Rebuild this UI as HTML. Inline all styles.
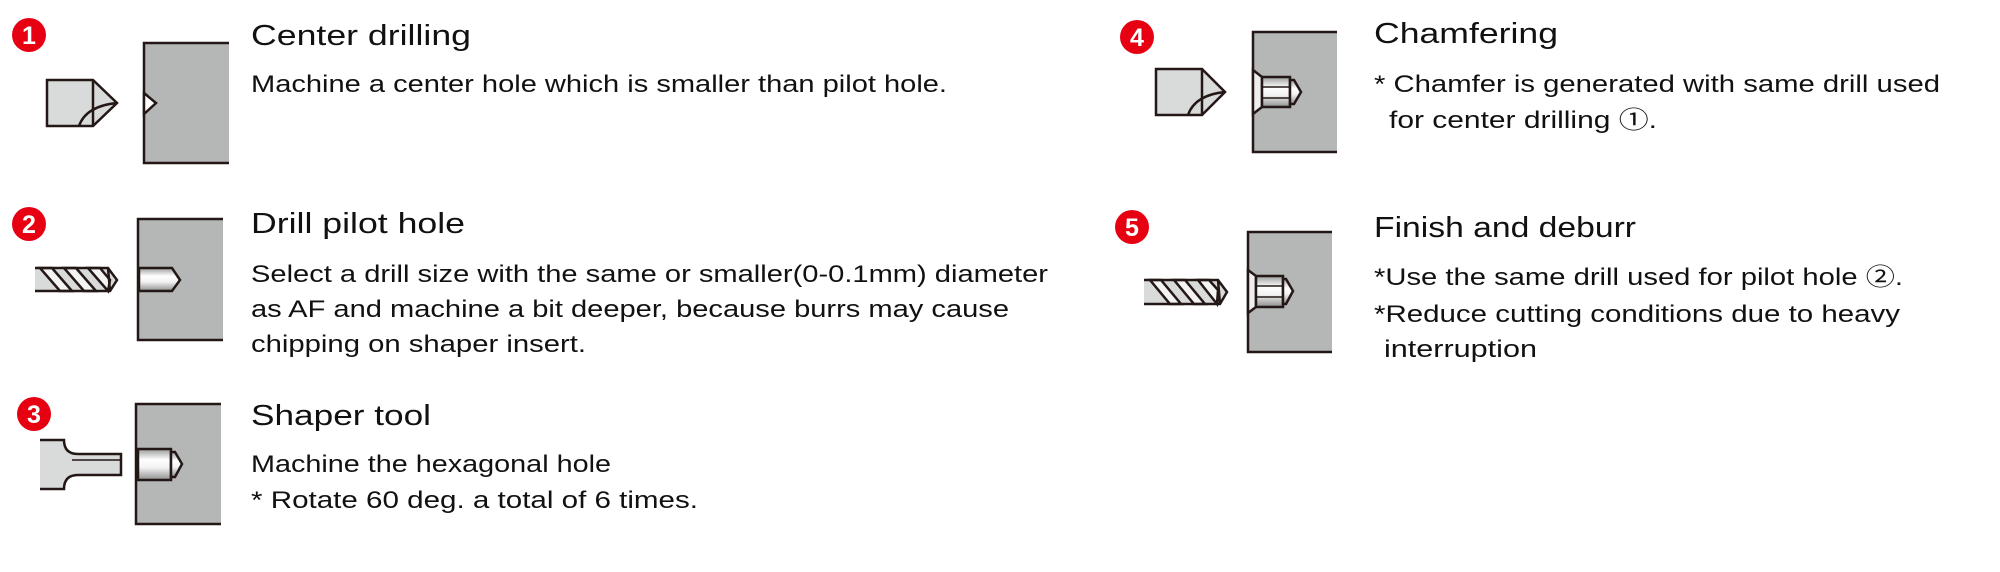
<!DOCTYPE html>
<html><head><meta charset="utf-8"><style>
html,body{margin:0;padding:0;background:#fff;}
svg{display:block}
text{font-family:"Liberation Sans","Noto Sans CJK JP",sans-serif;fill:#111}
.t{font-size:29px}
.b{font-size:24px}
</style></head><body>
<svg width="2000" height="572" viewBox="0 0 2000 572" xmlns="http://www.w3.org/2000/svg">
<defs>
<linearGradient id="cyl" x1="0" y1="0" x2="0" y2="1">
<stop offset="0" stop-color="#9a9b9b"/><stop offset="0.35" stop-color="#ffffff"/><stop offset="0.6" stop-color="#f2f2f2"/><stop offset="1" stop-color="#8d8e8e"/>
</linearGradient>
</defs>
<g stroke="#231815" stroke-width="2.5" stroke-linejoin="miter">

<g stroke="none">
<circle cx="29" cy="35" r="17" fill="#e60012"/>
<circle cx="29" cy="224" r="17" fill="#e60012"/>
<circle cx="34" cy="414" r="17" fill="#e60012"/>
<circle cx="1137" cy="37" r="17" fill="#e60012"/>
<circle cx="1132" cy="227" r="17" fill="#e60012"/>
</g>

<!-- 1 -->
<path d="M47 80 H93 L117 103 L93 126 H47 Z" fill="#d9dada"/>
<line x1="93" y1="80" x2="93" y2="126"/>
<path d="M79 126 Q86 106 117 103" fill="none"/>
<path d="M229 43 H144 V163 H229" fill="#b5b6b6"/>
<path d="M144 93 L156 103 L144 114 Z" fill="#fff"/>

<!-- 2 -->
<path d="M223 219 H138 V340 H223" fill="#b5b6b6"/>
<path d="M139 268 H172 L180 280 L172 291 H139 Z" fill="url(#cyl)"/>
<path d="M35 268 H108 L117 280 L110 291 H35 Z" fill="#d9dada" stroke="none"/>
<g fill="#f4f4f4">
<path d="M40 268 H52 L72 291 H60 Z"/>
<path d="M64 268 H76 L96 291 H84 Z"/>
<path d="M88 268 H100 L110 280 L108 291 Z"/>
</g>
<path d="M35 268 H108 L117 280 L110 291 H35" fill="none"/>
<line x1="108" y1="268" x2="110" y2="291"/>

<!-- 3 -->
<path d="M221 404 H136 V524 H221" fill="#b5b6b6"/>
<path d="M138 449 H171 V480 H138 Z" fill="url(#cyl)"/>
<path d="M171 452 H175 L182 464 L175 477 H171 Z" fill="url(#cyl)"/>
<path d="M40 440 H64 Q64 454 78 454 H121 V475 H78 Q64 475 64 489 H40" fill="#d9dada"/>
<path d="M72 460 H121" fill="none" stroke-width="1.5"/>

<!-- 4 -->
<path d="M1156 69 H1202 L1225 92 L1202 115 H1156 Z" fill="#d9dada"/>
<line x1="1202" y1="69" x2="1202" y2="115"/>
<path d="M1188 115 Q1195 95 1225 92" fill="none"/>
<path d="M1337 32 H1253 V152 H1337" fill="#b5b6b6"/>
<path d="M1253 70 L1262 77 V107 L1253 114 Z" fill="#eee"/>
<path d="M1262 77 H1290 V107 H1262 Z" fill="url(#cyl)"/>
<path d="M1262 87 H1290 M1262 98 H1290" fill="none" stroke-width="1.5"/>
<path d="M1290 80 H1294 L1301 92 L1294 104 H1290 Z" fill="url(#cyl)"/>

<!-- 5 -->
<path d="M1332 232 H1248 V352 H1332" fill="#b5b6b6"/>
<path d="M1248 270 L1256 276 V307 L1248 313 Z" fill="#eee"/>
<path d="M1256 276 H1283 V307 H1256 Z" fill="url(#cyl)"/>
<path d="M1256 286 H1283 M1256 297 H1283" fill="none" stroke-width="1.5"/>
<path d="M1283 279 H1286 L1293 291 L1286 304 H1283 Z" fill="url(#cyl)"/>
<path d="M1144 280 H1218 L1227 292 L1220 304 H1144 Z" fill="#d9dada" stroke="none"/>
<g fill="#f4f4f4">
<path d="M1150 280 H1161 L1181 304 H1170 Z"/>
<path d="M1174 280 H1185 L1205 304 H1194 Z"/>
<path d="M1198 280 H1209 L1218 290 L1217 304 Z"/>
</g>
<path d="M1144 280 H1218 L1227 292 L1220 304 H1144" fill="none"/>
<line x1="1218" y1="280" x2="1220" y2="304"/>
</g>

<g font-size="25" text-anchor="middle">
<text x="29" y="44" style="fill:#fff;font-weight:bold">1</text>
<text x="29" y="233" style="fill:#fff;font-weight:bold">2</text>
<text x="34" y="423" style="fill:#fff;font-weight:bold">3</text>
<text x="1137" y="46" style="fill:#fff;font-weight:bold">4</text>
<text x="1132" y="236" style="fill:#fff;font-weight:bold">5</text>
</g>

<text class="t" x="251" y="45" textLength="220" lengthAdjust="spacingAndGlyphs">Center drilling</text>
<text class="b" x="251" y="92" textLength="696" lengthAdjust="spacingAndGlyphs">Machine a center hole which is smaller than pilot hole.</text>
<text class="t" x="251" y="233" textLength="214" lengthAdjust="spacingAndGlyphs">Drill pilot hole</text>
<text class="b" x="251" y="282" textLength="797" lengthAdjust="spacingAndGlyphs">Select a drill size with the same or smaller(0-0.1mm) diameter</text>
<text class="b" x="251" y="317" textLength="758" lengthAdjust="spacingAndGlyphs">as AF and machine a bit deeper, because burrs may cause</text>
<text class="b" x="251" y="352" textLength="335" lengthAdjust="spacingAndGlyphs">chipping on shaper insert.</text>
<text class="t" x="251" y="425" textLength="180" lengthAdjust="spacingAndGlyphs">Shaper tool</text>
<text class="b" x="251" y="472" textLength="360" lengthAdjust="spacingAndGlyphs">Machine the hexagonal hole</text>
<text class="b" x="251" y="508" textLength="447" lengthAdjust="spacingAndGlyphs">* Rotate 60 deg. a total of 6 times.</text>

<text class="t" x="1374" y="43" textLength="184" lengthAdjust="spacingAndGlyphs">Chamfering</text>
<text class="b" x="1374" y="92" textLength="566" lengthAdjust="spacingAndGlyphs">* Chamfer is generated with same drill used</text>
<text class="b" x="1389" y="128" textLength="268" lengthAdjust="spacingAndGlyphs">for center drilling ①.</text>
<text class="t" x="1374" y="237" textLength="262" lengthAdjust="spacingAndGlyphs">Finish and deburr</text>
<text class="b" x="1374" y="285" textLength="529" lengthAdjust="spacingAndGlyphs">*Use the same drill used for pilot hole ②.</text>
<text class="b" x="1374" y="322" textLength="526" lengthAdjust="spacingAndGlyphs">*Reduce cutting conditions due to heavy</text>
<text class="b" x="1384" y="357" textLength="153" lengthAdjust="spacingAndGlyphs">interruption</text>
</svg>
</body></html>
